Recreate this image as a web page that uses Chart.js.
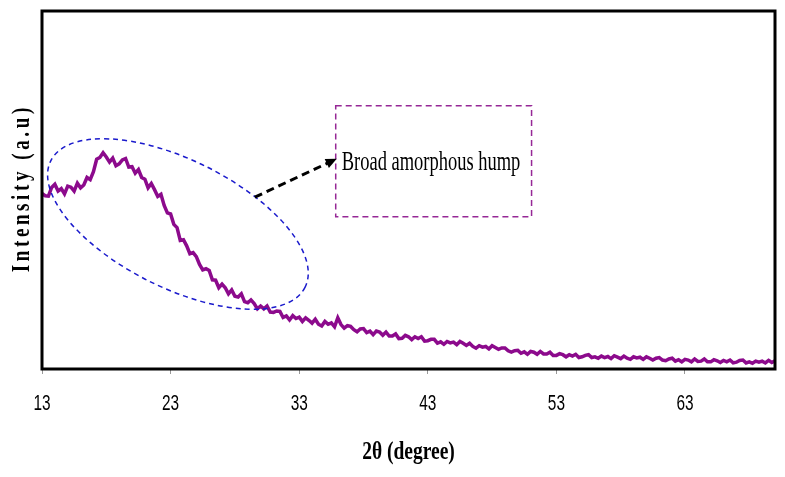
<!DOCTYPE html>
<html>
<head>
<meta charset="utf-8">
<script src="https://cdn.jsdelivr.net/npm/chart.js@4/dist/chart.umd.min.js"></script>
<style>
  html, body { margin: 0; padding: 0; background: #fff; }
</style>
</head>
<body>
<canvas id="xrd" width="785" height="477"></canvas>
<script>
// ===== Data =====
// scan grid in 2θ (degrees)
const startAngle = 13;
const stepAngle = 0.25;

// intensity (a.u.; 0 = bottom of frame, 100 = top)
const intensity = [
  49.0, 48.4, 48.3, 50.7, 51.6, 49.7, 50.4, 48.9, 51.1, 50.8, 49.7, 51.9, 50.6, 51.4, 53.5, 52.9,
  55.1, 58.6, 59.1, 60.4, 59.2, 57.8, 58.9, 56.8, 57.3, 58.4, 58.8, 56.4, 56.5, 54.7, 55.7, 53.5,
  53.0, 50.6, 51.8, 50.1, 48.2, 48.8, 45.7, 43.6, 43.3, 40.4, 39.5, 35.9, 36.1, 34.4, 32.2, 32.5,
  31.4, 29.2, 27.7, 28.0, 27.5, 24.9, 24.8, 22.7, 23.7, 22.7, 21.0, 22.1, 20.3, 20.1, 21.0, 18.8,
  18.5, 19.3, 18.3, 16.8, 17.6, 16.8, 17.6, 15.9, 15.8, 16.2, 16.1, 14.4, 14.8, 13.7, 14.9, 14.1,
  14.5, 13.3, 14.3, 13.6, 12.8, 13.9, 12.5, 12.0, 13.3, 12.5, 12.9, 11.8, 14.3, 12.4, 11.4, 12.1,
  11.9, 11.0, 10.4, 11.2, 11.3, 10.2, 10.6, 9.6, 10.6, 10.3, 9.4, 10.3, 9.2, 9.2, 9.8, 8.5,
  8.6, 9.4, 9.0, 8.2, 9.0, 8.5, 9.0, 7.8, 7.9, 8.3, 8.3, 7.2, 7.6, 6.9, 7.7, 7.3,
  7.5, 6.8, 7.7, 7.2, 6.6, 7.2, 6.3, 5.8, 6.5, 6.1, 6.3, 5.6, 6.5, 6.0, 5.5, 5.9,
  5.9, 5.1, 4.7, 5.1, 5.2, 4.4, 4.8, 4.1, 4.9, 4.7, 4.1, 4.9, 4.2, 4.2, 4.7, 3.8,
  3.8, 4.3, 4.0, 3.4, 4.0, 3.6, 4.1, 3.2, 3.4, 3.8, 4.0, 3.2, 3.4, 3.0, 3.6, 3.2,
  3.5, 2.9, 3.7, 3.3, 2.9, 3.6, 3.0, 2.7, 3.4, 3.1, 3.3, 2.7, 3.4, 3.0, 2.5, 3.0,
  3.2, 2.5, 2.3, 2.8, 3.0, 2.2, 2.6, 2.0, 2.7, 2.5, 2.0, 2.8, 2.1, 2.2, 2.8, 2.0,
  2.0, 2.6, 2.3, 1.8, 2.4, 2.0, 2.5, 1.7, 1.9, 2.4, 2.5, 1.7, 2.0, 1.6, 2.2, 1.9,
  2.2, 1.7, 2.4, 1.8, 2.3
];

const xTicks = [13, 23, 33, 43, 53, 63];
const xRange = [13, 70];
const yRange = [0, 100];

const xTitle = '2θ (degree)';
const yTitle = 'Intensity (a.u)';
const noteText = 'Broad amorphous hump';

// annotation anchors in data units (2θ, intensity)
const noteBox = { x1: 35.84, x2: 51.07, y1: 73.5, y2: 42.5 };
const noteArrow = { x1: 29.55, y1: 48.0, x2: 35.92, y2: 58.7 };
const humpEllipse = { x: 23.57, y: 40.5 };

const points = intensity.map((v, i) => ({ x: startAngle + i * stepAngle, y: v }));

// ===== Frame, titles and annotation =====
const decorPlugin = {
  id: 'decor',
  afterDatasetsDraw(chart) {
    const { ctx, scales: { x, y } } = chart;
    ctx.save();

    // dashed ellipse around the hump
    ctx.strokeStyle = '#1a1acc';
    ctx.lineWidth = 1.5;
    ctx.setLineDash([5, 4]);
    ctx.beginPath();
    ctx.ellipse(x.getPixelForValue(humpEllipse.x), y.getPixelForValue(humpEllipse.y),
      142, 64, 26.4 * Math.PI / 180, 0, Math.PI * 2);
    ctx.stroke();

    // dashed box
    ctx.strokeStyle = '#962896';
    ctx.lineWidth = 1.5;
    ctx.setLineDash([6, 4]);
    const bx1 = x.getPixelForValue(noteBox.x1), bx2 = x.getPixelForValue(noteBox.x2);
    const by1 = y.getPixelForValue(noteBox.y1), by2 = y.getPixelForValue(noteBox.y2);
    ctx.strokeRect(bx1, by1, bx2 - bx1, by2 - by1);

    // arrow
    const ax1 = x.getPixelForValue(noteArrow.x1), ay1 = y.getPixelForValue(noteArrow.y1);
    const ax2 = x.getPixelForValue(noteArrow.x2), ay2 = y.getPixelForValue(noteArrow.y2);
    const ang = Math.atan2(ay2 - ay1, ax2 - ax1);
    ctx.strokeStyle = '#000';
    ctx.lineWidth = 3;
    ctx.setLineDash([8, 5]);
    ctx.beginPath();
    ctx.moveTo(ax1, ay1);
    ctx.lineTo(ax2 - 8 * Math.cos(ang), ay2 - 8 * Math.sin(ang));
    ctx.stroke();
    ctx.setLineDash([]);
    ctx.fillStyle = '#000';
    ctx.beginPath();
    ctx.moveTo(ax2, ay2);
    ctx.lineTo(ax2 - 11 * Math.cos(ang) + 5 * Math.sin(ang), ay2 - 11 * Math.sin(ang) - 5 * Math.cos(ang));
    ctx.lineTo(ax2 - 11 * Math.cos(ang) - 5 * Math.sin(ang), ay2 - 11 * Math.sin(ang) + 5 * Math.cos(ang));
    ctx.closePath();
    ctx.fill();

    // note text (narrow serif)
    ctx.save();
    ctx.translate(bx1 + 6, (by1 + by2) / 2 + 1);
    ctx.scale(0.66, 1);
    ctx.font = '28px "Liberation Serif", "Times New Roman", serif';
    ctx.textBaseline = 'middle';
    ctx.textAlign = 'left';
    ctx.fillText(noteText, 0, 0);
    ctx.restore();

    ctx.restore();
  },
  afterDraw(chart) {
    const { ctx, chartArea: a, scales: { x } } = chart;
    ctx.save();
    // heavy frame
    ctx.strokeStyle = '#000';
    ctx.lineWidth = 3;
    ctx.strokeRect(a.left, a.top, a.right - a.left, a.bottom - a.top);

    ctx.fillStyle = '#000';

    // x tick labels, condensed like the original
    ctx.font = '22px "Liberation Sans", Arial, sans-serif';
    ctx.textAlign = 'center';
    ctx.textBaseline = 'middle';
    x.ticks.forEach(t => {
      ctx.save();
      ctx.translate(x.getPixelForValue(t.value), 404);
      ctx.scale(0.7, 1);
      ctx.fillText(String(t.value), 0, 0);
      ctx.restore();
    });

    // x title
    ctx.save();
    ctx.translate((a.left + a.right) / 2, 453);
    ctx.scale(0.78, 1);
    ctx.font = 'bold 25px "Liberation Serif", "Times New Roman", serif';
    ctx.textAlign = 'center';
    ctx.textBaseline = 'middle';
    ctx.fillText(xTitle, 0, 0);
    ctx.restore();

    // y title, letter-spaced
    ctx.save();
    ctx.translate(22, (a.top + a.bottom) / 2);
    ctx.rotate(-Math.PI / 2);
    ctx.scale(1, 1.35);
    ctx.font = 'bold 19px "Liberation Serif", "Times New Roman", serif';
    ctx.textBaseline = 'middle';
    ctx.textAlign = 'left';
    const gap = 3.6;
    const chars = [...yTitle];
    const total = chars.reduce((s, c) => s + ctx.measureText(c).width, 0) + gap * (chars.length - 1);
    let cx = -total / 2;
    chars.forEach(c => {
      ctx.fillText(c, cx, 0);
      cx += ctx.measureText(c).width + gap;
    });
    ctx.restore();

    ctx.restore();
  }
};

// ===== Chart =====
new Chart(document.getElementById('xrd'), {
  type: 'line',
  data: {
    datasets: [{
      data: points,
      borderColor: '#8c0a8c',
      borderWidth: 3.5,
      pointRadius: 0,
      tension: 0,
      fill: false
    }]
  },
  options: {
    responsive: false,
    animation: false,
    layout: { padding: { left: 42, right: 10, top: 11, bottom: 0 } },
    plugins: { legend: { display: false }, tooltip: { enabled: false } },
    scales: {
      x: {
        type: 'linear',
        min: xRange[0],
        max: xRange[1],
        afterBuildTicks: s => { s.ticks = xTicks.map(v => ({ value: v })); },
        afterFit: s => { s.height = 108; },
        ticks: {
          autoSkip: false,
          maxRotation: 0,
          padding: 20,
          color: 'rgba(0,0,0,0)',
          font: { size: 18 }
        },
        grid: { drawOnChartArea: false, drawTicks: true, tickLength: 5, color: '#999' },
        border: { display: false }
      },
      y: {
        display: false,
        min: yRange[0],
        max: yRange[1]
      }
    }
  },
  plugins: [decorPlugin]
});
</script>
</body>
</html>
